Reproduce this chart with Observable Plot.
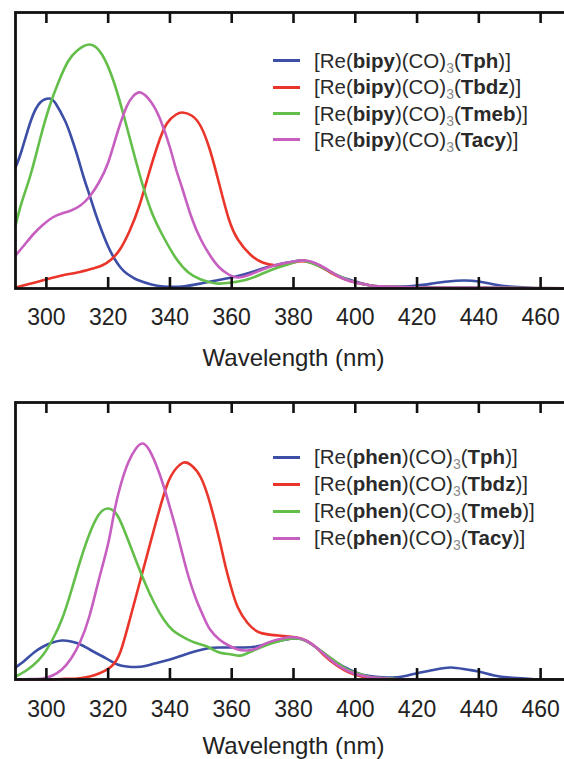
<!DOCTYPE html>
<html>
<head>
<meta charset="utf-8">
<script src="https://cdn.jsdelivr.net/npm/d3@7"></script>
<script src="https://cdn.jsdelivr.net/npm/@observablehq/plot@0.6"></script>
<style>
  html, body { margin: 0; padding: 0; background: #fff; overflow: hidden; width: 564px; height: 759px; }
  #root { position: relative; width: 564px; height: 759px; }
  #root svg { display: block; overflow: hidden; }
  .legend { position: absolute; left: 273px; font-family: "Liberation Sans", Arial, sans-serif; font-size: 20.5px; color: #2a2a2a; white-space: nowrap; }
  .legend .row { display: flex; align-items: center; }
  .legend .sw { display: inline-block; width: 27px; height: 3px; margin-right: 14px; }
  .legend b { font-weight: bold; }
  .legend sub { font-size: 14px; color: #8a8a8a; vertical-align: -5px; line-height: 0; }
</style>
</head>
<body>
<div id="root"></div>
<script>
// ---------- data (relative absorbance) ----------
const seriesNames = ["Tph", "Tbdz", "Tmeb", "Tacy"];
const colors = ["#3c4ea6", "#e9352a", "#63be4a", "#c65fc0"];
const xTicks = [300, 320, 340, 360, 380, 400, 420, 440, 460];
const axisTitle = "Wavelength (nm)";

// top panel: [Re(bipy)(CO)3(L)]
const bipyTph = [[290,121],[292,138],[295,168],[298,186],[301,190],[303,185],[306,168],[308,152],[310,133],[312,112],[314,93],[316,74],[318,57],[320,42],[322,30],[324,21],[326,15],[328,11],[330,8],[334,4],[338,2],[344,2],[350,5],[355,8],[360,11],[365,15],[370,20],[375,24],[380,27],[383,28],[387,25],[390,20],[395,12],[400,7],[405,3],[410,2],[415,2],[420,3],[425,5],[430,7],[435,8],[440,7],[445,4],[450,2],[455,1],[460,0],[470,0]];
const bipyTbdz = [[290,1],[295,5],[300,9],[305,13],[310,16],[315,20],[318,23],[321,29],[324,40],[327,58],[330,82],[333,113],[336,143],[339,165],[342,174],[344,176],[347,173],[350,162],[353,138],[356,104],[359,70],[362,49],[366,34],[370,26],[375,23],[380,26],[384,27],[388,23],[392,16],[396,10],[400,6],[405,3],[410,1],[420,1],[440,0],[470,0]];
const bipyTmeb = [[290,63],[292,86],[295,115],[298,150],[301,182],[304,207],[307,227],[310,238],[314,244],[318,234],[322,205],[326,162],[330,116],[334,77],[338,51],[342,30],[346,16],[350,9],[355,5],[360,6],[365,9],[370,15],[375,21],[380,26],[383,28],[387,24],[390,20],[395,12],[400,6],[405,3],[410,2],[420,1],[440,1],[470,0]];
const bipyTacy = [[290,33],[293,44],[296,55],[299,64],[302,71],[305,75],[308,78],[311,83],[314,92],[317,106],[320,126],[323,156],[326,182],[328,192],[330.5,196],[334,186],[337,168],[340,141],[342,119],[344,100],[347,71],[350,49],[353,33],[356,21],[359,14],[362,11],[366,14],[370,19],[375,24],[380,27],[384,28],[388,24],[392,17],[396,10],[400,6],[405,3],[410,2],[420,1],[440,1],[470,0]];

// bottom panel: [Re(phen)(CO)3(L)]
const phenTph = [[290,12],[293,19],[296,27],[299,33],[302,37],[305,39],[308,38],[311,35],[314,30],[317,25],[320,20],[323,15],[326,13],[329,12.5],[332,13.5],[335,16],[340,20],[344,24],[348,28],[352,31],[356,32],[360,32],[364,32],[368,33],[372,36],[376,39],[380,41],[383,40],[386,35],[390,26],[394,17],[398,10],[402,5],[406,3],[412,2],[417,4],[421,7],[426,10],[431,12],[436,10],[440,8],[445,4],[450,2],[455,1],[460,0],[470,0]];
const phenTbdz = [[290,0],[300,0],[305,0.5],[310,1],[314,3],[317,6],[321,13],[324,28],[327,60],[331,106],[335,152],[339,194],[342,211],[344.5,217],[347,214],[350,202],[353,176],[356,140],[358,113],[360,90],[362,72],[365,57],[369,47],[375,44],[381,42],[384,39],[387,33],[390,24],[394,14],[398,7],[402,3],[406,1],[410,0.5],[420,0],[470,0]];
const phenTmeb = [[290,3],[293,8],[296,15],[299,25],[302,40],[305,60],[308,88],[311,119],[314,146],[317,165],[320,171],[323,164],[326,143],[329,119],[332,96],[335,76],[338,60],[341,49],[344,43],[348,37],[352,33],[356,27],[360,25],[363,24],[367,29],[371,34],[376,39],[380,41],[383,40],[386,35],[390,26],[394,17],[398,9],[402,5],[406,2],[412,1],[420,0],[470,0]];
const phenTacy = [[290,0],[295,0.5],[299,1],[302,4],[305,10],[308,21],[311,38],[314,64],[317,100],[320,136],[322,168],[324,194],[326.5,217],[329,231],[331,236],[333,231],[335.5,215],[338,193],[340,172],[342,150],[344,126],[346,103],[348.5,80],[351,62],[353,50],[356,40],[359,34],[362,30],[365,29],[368,31],[371,36],[375,40],[378,42],[381,42],[384,39],[387,33],[390,25],[394,15],[398,8],[402,4],[406,2],[410,1],[420,0],[470,0]];

const panels = [
  {ligand: "bipy", series: [bipyTph, bipyTbdz, bipyTmeb, bipyTacy], yMax: 276, height: 390, marginTop: 12, marginBottom: 102, tickPad: 20, titleDy: 77, legendTop: 47.8, legendRow: 26.3},
  {ligand: "phen", series: [phenTph, phenTbdz, phenTmeb, phenTacy], yMax: 277, height: 369, marginTop: 12, marginBottom: 80, tickPad: 21, titleDy: 74, legendTop: 390 + 53.5, legendRow: 27}
];

const root = document.getElementById("root");
const font = "'Liberation Sans', Arial, sans-serif";

panels.forEach((p) => {
  const rows = [];
  p.series.forEach((s, i) => s.forEach(([x, y]) => rows.push({x, y, k: seriesNames[i]})));
  const chart = Plot.plot({
    width: 564,
    height: p.height,
    marginLeft: 15,
    marginRight: -7,
    marginTop: p.marginTop,
    marginBottom: p.marginBottom,
    style: {fontFamily: font, background: "#fff", color: "#222"},
    x: {domain: [290, 470]},
    y: {domain: [0, p.yMax], axis: null},
    color: {domain: seriesNames, range: colors},
    marks: [
      Plot.line(rows, {x: "x", y: "y", z: "k", stroke: "k", strokeWidth: 2.6, curve: "natural"}),
      Plot.ruleX(xTicks, {x: d => d, y1: 0, y2: 11, stroke: "#111", strokeWidth: 2.6}),
      Plot.ruleX(xTicks, {x: d => d, y1: p.yMax - 11, y2: p.yMax, stroke: "#111", strokeWidth: 2.6}),
      Plot.frame({stroke: "#111", strokeWidth: 2.8}),
      Plot.axisX(xTicks, {anchor: "bottom", tickSize: 0, tickPadding: p.tickPad, fontSize: 23, fill: "#222", label: null}),
      Plot.text([axisTitle], {frameAnchor: "bottom", dy: p.titleDy, lineAnchor: "bottom", fontSize: 24, fill: "#222"})
    ]
  });
  root.appendChild(chart);

  const leg = document.createElement("div");
  leg.className = "legend";
  leg.style.top = p.legendTop + "px";
  seriesNames.forEach((name, i) => {
    const row = document.createElement("div");
    row.className = "row";
    row.style.height = p.legendRow + "px";
    row.innerHTML = `<span class="sw" style="background:${colors[i]}"></span><span>[Re(<b>${p.ligand}</b>)(CO)<sub>3</sub>(<b>${name}</b>)]</span>`;
    leg.appendChild(row);
  });
  root.appendChild(leg);
});
</script>
</body>
</html>
